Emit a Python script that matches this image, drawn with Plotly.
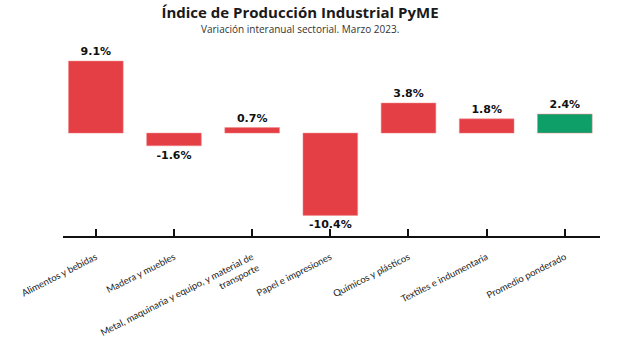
import plotly.graph_objects as go

categories = [
    "Alimentos y bebidas",
    "Madera y muebles",
    "Metal, maquinaria y equipo, y material de<br>transporte",
    "Papel e impresiones",
    "Químicos y plásticos",
    "Textiles e indumentaria",
    "Promedio ponderado",
]
values = [9.1, -1.6, 0.7, -10.4, 3.8, 1.8, 2.4]
text_labels = ["9.1%", "-1.6%", "0.7%", "-10.4%", "3.8%", "1.8%", "2.4%"]
colors = ["#E43F45"] * 6 + ["#0E9F69"]

fig = go.Figure(
    go.Bar(
        x=list(range(len(categories))),
        y=values,
        width=0.7,
        marker=dict(color=colors, line=dict(color="#F08A8E", width=0.5)),
        text=text_labels,
        textposition="outside",
        cliponaxis=False,
        textfont=dict(family="DejaVu Sans", size=11, color="#111111", weight="bold"),
    )
)

fig.update_layout(
    width=624,
    height=340,
    margin=dict(l=63, r=24, t=50, b=104),
    plot_bgcolor="white",
    paper_bgcolor="white",
    showlegend=False,
    title=dict(
        text="<b>Índice de Producción Industrial PyME</b>",
        x=300 / 624,
        xref="container",
        y=0.962,
        yref="container",
        xanchor="center",
        yanchor="middle",
        font=dict(family="Open Sans", size=15, color="#1a1a1a"),
    ),
    annotations=[
        dict(
            text="Variación interanual sectorial. Marzo 2023.",
            x=(300 - 63) / 537.0,
            xref="paper",
            y=1.0 + (50 - 29) / 186.0,
            yref="paper",
            xanchor="center",
            yanchor="middle",
            showarrow=False,
            font=dict(family="Open Sans", size=10, color="#333333"),
        )
    ],
)

fig.update_xaxes(
    tickmode="array",
    tickvals=list(range(len(categories))),
    ticktext=categories,
    tickangle=-27,
    range=[-0.42, 6.45],
    showline=True,
    linecolor="#111111",
    linewidth=2,
    ticks="inside",
    ticklen=7,
    tickwidth=2,
    tickcolor="#111111",
    showgrid=False,
    zeroline=False,
    automargin=False,
    ticklabelstandoff=10,
    tickfont=dict(family="Lato", size=9.5, color="#222222"),
)
fig.update_yaxes(
    range=[-13.0, 10.5],
    visible=False,
    showgrid=False,
    zeroline=False,
    automargin=False,
)

fig.write_html("out.html")
